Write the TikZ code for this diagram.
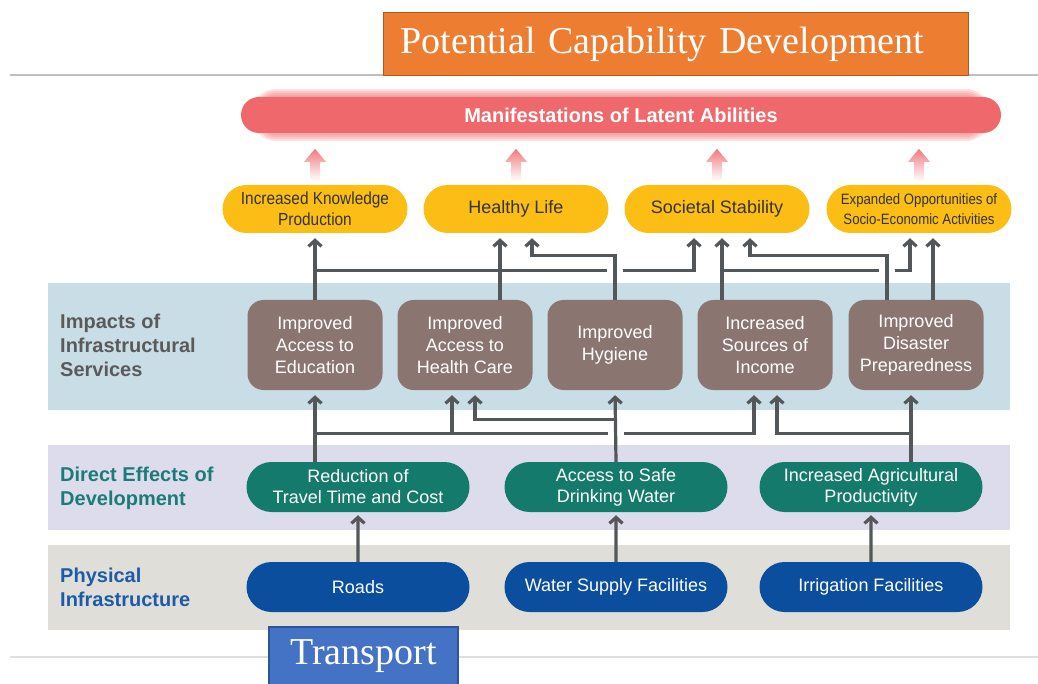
\documentclass[tikz,border=0pt]{standalone}
\usepackage{fontspec}
\setmainfont{Liberation Serif}
\setsansfont{Liberation Sans}
\newfontfamily\narrowsf[FakeStretch=0.88]{Liberation Sans}
\usetikzlibrary{arrows.meta,shapes.misc,calc}

\definecolor{titleorange}{HTML}{ED7D31}
\definecolor{titleedge}{HTML}{A85A22}
\definecolor{transblue}{HTML}{4472C4}
\definecolor{transedge}{HTML}{2F5597}
\definecolor{bannerred}{HTML}{EE686C}
\definecolor{arrowpink}{HTML}{F07A7E}
\definecolor{goalyellow}{HTML}{FCBE14}
\definecolor{impactbrown}{HTML}{8B7571}
\definecolor{effectgreen}{HTML}{147A6C}
\definecolor{infrablue}{HTML}{0C4E9E}
\definecolor{bandblue}{HTML}{C9DDE6}
\definecolor{bandpurple}{HTML}{DDDCED}
\definecolor{bandgray}{HTML}{DFDED9}
\definecolor{linegray}{HTML}{54575A}
\definecolor{labelgray}{HTML}{5B5A5A}
\definecolor{labelteal}{HTML}{1C7B78}
\definecolor{labelblue}{HTML}{1D5AA8}

\tikzset{
  conn/.style={draw=linegray, line width=3.2pt, -{Straight Barb[length=6pt,width=13pt]}, shorten >=5pt},
  lane/.style={draw=linegray, line width=3.2pt},
  gap/.style={draw=white, line width=7pt},
  goal/.style={rounded rectangle, fill=goalyellow, text=black!80, minimum width=185pt, minimum height=48pt,
    inner sep=0pt, align=center, font=\sffamily\fontsize{18}{21}\selectfont},
  impact/.style={rectangle, rounded corners=16pt, fill=impactbrown, text=white, minimum width=135pt,
    minimum height=90pt, inner sep=0pt, align=center, font=\sffamily\fontsize{18}{22}\selectfont},
  effect/.style={rounded rectangle, fill=effectgreen, text=white, minimum width=223pt, minimum height=50pt,
    inner sep=0pt, align=center, font=\sffamily\fontsize{18}{21}\selectfont},
  infra/.style={rounded rectangle, fill=infrablue, text=white, minimum width=223pt, minimum height=50pt,
    inner sep=0pt, align=center, font=\sffamily\fontsize{18}{21}\selectfont},
  rowlabel/.style={anchor=west, align=left, inner sep=0pt, font=\sffamily\bfseries\fontsize{20}{24}\selectfont}
}

\begin{document}
\begin{tikzpicture}[x=1pt, y=-1pt]
  \useasboundingbox (0,0) rectangle (1038,684);

  % Rules across the page
  \draw[gray!50, line width=1.2pt] (10,75) -- (1038,75);
  \draw[gray!25, line width=1.2pt] (10,657) -- (1038,657);

  % Title boxes
  \node[draw=titleedge, line width=1.2pt, fill=titleorange, text=white, anchor=north west,
    text width=551pt, minimum height=63pt, inner xsep=17pt, align=left,
    font=\rmfamily\fontsize{38}{40}\selectfont] (title) at (383,12) {Potential Capability Development};

  % Background bands
  \fill[bandblue] (48,283) rectangle (1010,410);
  \fill[bandpurple] (48,445) rectangle (1010,530);
  \fill[bandgray] (48,545) rectangle (1010,630);

  % Row labels
  \node[rowlabel, text=labelgray] (implabel) at (60,345) {Impacts of\\Infrastructural\\Services};
  \node[rowlabel, text=labelteal] (efflabel) at (60,488) {Direct Effects of\\Development};
  \node[rowlabel, text=labelblue] (phylabel) at (60,587) {Physical\\Infrastructure};

  % Banner with a soft rim
  \node[rounded rectangle, fill=bannerred, text=white, minimum width=760pt, minimum height=36pt, inner sep=0pt,
    font=\sffamily\bfseries\fontsize{20}{24}\selectfont] (mani) at (621,115) {Manifestations of Latent Abilities};
  \foreach \w in {16,12,8,4}
    \draw[bannerred, opacity=0.2, line width=\w pt, rounded corners=18pt] (mani.south west) rectangle (mani.north east);

  % Outcomes
  \node[goal, font=\narrowsf\fontsize{17.5}{21}\selectfont] (know) at (315,209) {Increased Knowledge\\Production};
  \node[goal] (life) at (516,209) {Healthy Life};
  \node[goal] (soc) at (717,209) {Societal Stability};
  \node[goal, font=\narrowsf\fontsize{15}{20}\selectfont] (opp) at (919,209) {Expanded Opportunities of\\Socio-Economic Activities};

  % Faded arrows up to the banner
  \foreach \p in {know,life,soc,opp}
    \shade[top color=arrowpink, bottom color=white] ($(\p.north)+(-5,-4)$) -- ++(0,-19) -- ++(-6,0)
      -- ++(11,-13) -- ++(11,13) -- ++(-6,0) -- ++(0,19) -- cycle;

  % Impacts
  \node[impact] (edu) at (315,345) {Improved\\Access to\\Education};
  \node[impact] (hc) at (465,345) {Improved\\Access to\\Health Care};
  \node[impact] (hyg) at (615,345) {Improved\\Hygiene};
  \node[impact] (inc) at (765,345) {Increased\\Sources of\\Income};
  \node[impact] (prep) at (916,345) {Improved\\Disaster\\Preparedness};

  % Direct effects
  \node[effect] (trav) at (358,487) {Reduction of\\Travel Time and Cost};
  \node[effect] (drink) at (616,487) {Access to Safe\\Drinking Water};
  \node[effect] (agri) at (871,487) {Increased Agricultural\\Productivity};

  % Physical infrastructure
  \node[infra] (roads) at (358,587) {Roads};
  \node[infra] (water) at (616,587) {Water Supply Facilities};
  \node[infra] (irrig) at (871,587) {Irrigation Facilities};

  % Infrastructure -> direct effects
  \draw[conn, shorten >=3pt] (roads) -- (trav);
  \draw[conn, shorten >=3pt] (water) -- (drink);
  \draw[conn, shorten >=3pt] (irrig) -- (agri);

  % Direct effects -> impacts
  \draw[conn] ([xshift=-43pt]trav.north) -- (edu.south);
  \draw[conn] ([xshift=-43pt]trav.north) ++(0,-28) -| ([xshift=-13pt]hc.south);
  \draw[conn] ([xshift=-43pt]trav.north) ++(0,-28) -| ([xshift=-11pt]inc.south);
  \draw[conn] (drink.north) ++(0,-42) -| ([xshift=10pt]hc.south);
  \draw[conn] ([xshift=40pt]agri.north) ++(0,-28) -| ([xshift=12pt]inc.south);
  \draw[gap] ($(drink.north)+(-8,-28)$) -- ($(drink.north)+(8,-28)$);
  \draw[conn] (drink.north) -- (hyg.south);
  \draw[conn] ([xshift=40pt]agri.north) -- ([xshift=-5pt]prep.south);

  % Impacts -> outcomes
  \draw[conn] (edu.north) -- (know.south);
  \draw[lane] (edu.north) ++(0,-29) -- ($([xshift=35pt]hc.north)+(0,-29)$);
  \draw[conn] ([xshift=35pt]hc.north) ++(0,-29) -| ([xshift=-23pt]soc.south);
  \draw[conn] ([xshift=35pt]hc.north) -- ([xshift=-16pt]life.south);
  \draw[gap] ($(hyg.north)+(-8,-29)$) -- ($(hyg.north)+(8,-29)$);
  \draw[conn] (hyg.north) -- ++(0,-44) -| ([xshift=16pt]life.south);
  \draw[conn] ([xshift=-43pt]inc.north) -- ([xshift=5pt]soc.south);
  \draw[conn] ([xshift=-43pt]inc.north) ++(0,-29) -| ([xshift=-9pt]opp.south);
  \draw[gap] ($([xshift=-29pt]prep.north)+(-8,-29)$) -- ($([xshift=-29pt]prep.north)+(8,-29)$);
  \draw[conn] ([xshift=-29pt]prep.north) -- ++(0,-44) -| ([xshift=33pt]soc.south);
  \draw[conn] ([xshift=17pt]prep.north) -- ([xshift=14pt]opp.south);

  % Transport box
  \node[draw=transedge, line width=1.2pt, fill=transblue, text=white, minimum width=189pt, minimum height=58pt,
    inner sep=0pt, font=\rmfamily\fontsize{38}{40}\selectfont] (trans) at (363.5,656) {Transport};
\end{tikzpicture}
\end{document}
